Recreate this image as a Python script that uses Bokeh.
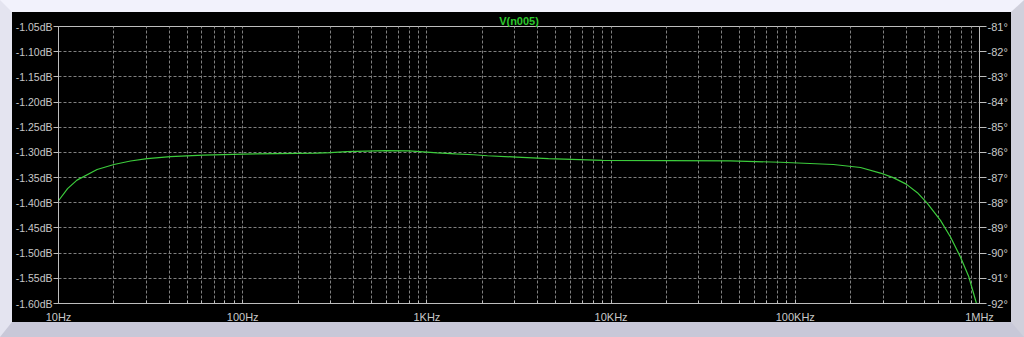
from bokeh.plotting import figure
from bokeh.models import (Range1d, LinearAxis, FixedTicker, PrintfTickFormatter)
from bokeh.embed import file_html
from bokeh.resources import INLINE

# ---- data ----
freq_hz = [10, 11.2, 12.6, 16.2, 20, 24.6, 30.3, 40.5, 61, 101, 198, 252, 300, 366,
           596, 800, 1140, 1430, 1790, 2130, 3070, 4570, 9000, 20000, 44500, 83000,
           161000, 226000, 290000, 340000, 400000, 460000, 520000, 614000, 696000, 789000,
           875000, 963000, 1000000]
mag_db = [-1.396, -1.372, -1.355, -1.334, -1.324, -1.317, -1.3125, -1.3085, -1.3053,
          -1.3033, -1.3020, -1.3014, -1.3006, -1.2986, -1.2966, -1.2970, -1.3010,
          -1.3030, -1.3046, -1.3066, -1.3093, -1.3125, -1.3160, -1.3165, -1.3168,
          -1.3195, -1.3240, -1.3300, -1.3410, -1.3500, -1.3630, -1.3800, -1.4006, -1.4350,
          -1.4680, -1.5080, -1.5470, -1.6000, -1.6250]
trace_name = "V(n005)"

x_major = [10, 100, 1000, 10000, 100000, 1000000]
x_major_labels = ["10Hz", "100Hz", "1KHz", "10KHz", "100KHz", "1MHz"]
x_minor = [m * d for d in [10, 100, 1000, 10000, 100000] for m in range(2, 10)]
db_ticks = [-1.05, -1.10, -1.15, -1.20, -1.25, -1.30, -1.35, -1.40, -1.45, -1.50, -1.55, -1.60]
deg_ticks = [-81, -82, -83, -84, -85, -86, -87, -88, -89, -90, -91, -92]

FONT = "Liberation Sans"
LBL = "#c8c8c8"
GRID = "#808080"
AXC = "#bdbdbd"

p = figure(width=999, height=316, x_axis_type="log",
           x_range=Range1d(10, 1e6), y_range=Range1d(-1.60, -1.05),
           output_backend="svg", toolbar_location=None,
           min_border_left=46, min_border_right=32, min_border_top=14, min_border_bottom=25,
           background_fill_color="black", border_fill_color=None,
           outline_line_color=AXC)
p.extra_y_ranges = {"deg": Range1d(-92, -81)}

p.title.text = trace_name
p.title.align = "center"
p.title.text_color = "#2ec82e"
p.title.text_font = FONT
p.title.text_font_size = "11px"
p.title.text_font_style = "bold"
p.title.standoff = 0
p.title.offset = 0

# bottom axis
xa = p.xaxis[0]
xa.ticker = FixedTicker(ticks=x_major, minor_ticks=x_minor)
xa.major_label_overrides = {k: v for k, v in zip(x_major, x_major_labels)}
xa.major_tick_in = 4
xa.major_tick_out = 0
xa.minor_tick_in = 3
xa.minor_tick_out = 0
xa.major_label_standoff = 7

# left axis
ya = p.yaxis[0]
ya.ticker = FixedTicker(ticks=db_ticks)
ya.formatter = PrintfTickFormatter(format="%.2fdB")
ya.major_tick_in = 0
ya.major_tick_out = 5
ya.minor_tick_out = 0
ya.minor_tick_in = 0
ya.major_label_standoff = 1

# right axis
ra = LinearAxis(y_range_name="deg", ticker=FixedTicker(ticks=deg_ticks),
                formatter=PrintfTickFormatter(format="%d°"))
ra.major_tick_in = 0
ra.major_tick_out = 7
ra.minor_tick_in = 0
ra.minor_tick_out = 0
ra.major_label_standoff = 1
p.add_layout(ra, "right")

for ax in [xa, ya, ra]:
    ax.axis_line_color = AXC
    ax.major_tick_line_color = AXC
    ax.minor_tick_line_color = AXC
    ax.major_label_text_color = LBL
    ax.major_label_text_font = FONT
    ax.major_label_text_font_size = "11px"
ya.major_label_text_font_size = "10.5px"

p.xgrid.grid_line_color = GRID
p.xgrid.grid_line_dash = "3 2"
p.xgrid.minor_grid_line_color = GRID
p.xgrid.minor_grid_line_dash = "3 2"
p.ygrid.grid_line_color = GRID
p.ygrid.grid_line_dash = "3 2"

p.line(freq_hz, mag_db, line_color="#3ccc3c", line_width=1.2)

html = file_html(p, INLINE, title="V(n005)")
css = ("<style>html{margin:0;padding:0;background:#f0f0fa;}"
       "body{box-sizing:content-box !important;margin:0;padding:0;width:999px;height:310px;"
       "background:#000;overflow:visible;"
       "border-style:solid;border-width:12px 13px 15px 12px;"
       "border-color:#f2f2fc #d0d0dc #c8c8d8 #e4e4f0;}</style></head>")
html = html.replace("</head>", css, 1)
open("out.html", "w").write(html)
